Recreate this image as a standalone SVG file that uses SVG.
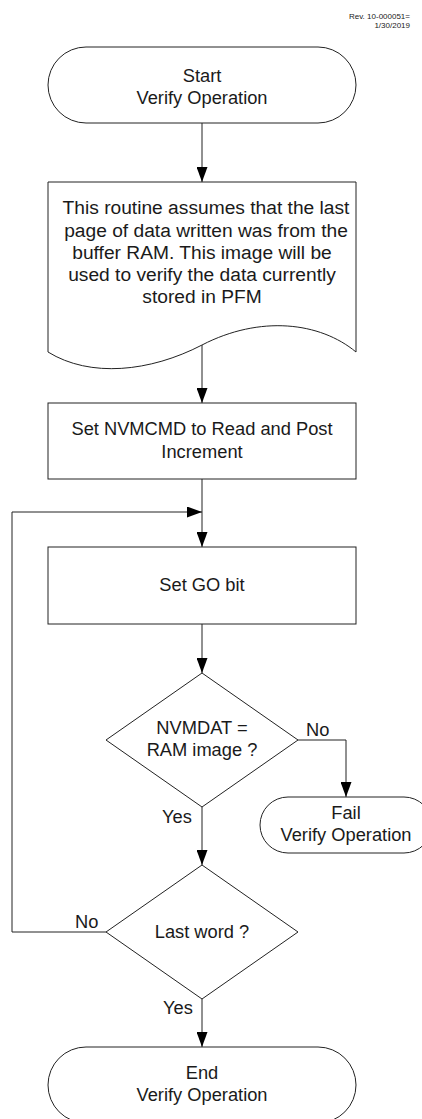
<svg xmlns="http://www.w3.org/2000/svg" width="422" height="1119" viewBox="0 0 422 1119">
<style>
.s{fill:#fff;stroke:#222;stroke-width:1}
.c{fill:none;stroke:#222;stroke-width:1}
text{font-family:"Liberation Sans",Arial,sans-serif;font-size:18.3px;fill:#1a1a1a}
.m{text-anchor:middle}
.d{font-size:19.2px}
.r{font-size:8px;text-anchor:end}
</style>
<defs>
<marker id="a" markerUnits="userSpaceOnUse" markerWidth="15" markerHeight="11" refX="15" refY="5.5" orient="auto">
<path d="M0,0 L15,5.5 L0,11 Z" fill="#000"/>
</marker>
</defs>
<g id="rev">
<text class="r" x="410" y="19">Rev. 10-000051=</text>
<text class="r" x="410" y="28">1/30/2019</text>
</g>
<g id="connectors">
<path class="c" d="M202,123 V182" marker-end="url(#a)"/>
<path class="c" d="M202,345 V403" marker-end="url(#a)"/>
<path class="c" d="M202,479 V547" marker-end="url(#a)"/>
<path class="c" d="M202,624 V673" marker-end="url(#a)"/>
<path class="c" d="M298,740 H346 V797" marker-end="url(#a)"/>
<path class="c" d="M202,807 V865" marker-end="url(#a)"/>
<path class="c" d="M106,932 H12 V512 H202" marker-end="url(#a)"/>
<path class="c" d="M202,999 V1047" marker-end="url(#a)"/>
<text x="306" y="736">No</text>
<text x="162" y="823">Yes</text>
<text x="75" y="928">No</text>
<text x="163" y="1014">Yes</text>
</g>
<g id="start">
<rect class="s" x="48" y="47" width="308" height="76" rx="38" ry="38"/>
<text class="m" x="202" y="82">Start</text>
<text class="m" x="202" y="104">Verify Operation</text>
</g>
<g id="note">
<path class="s" d="M48,182 H356 V352 C320,322 260,315 202,345 C150,372 90,378 48,352 Z"/>
<text class="m d" x="206" y="214">This routine assumes that the last</text>
<text class="m d" x="206" y="237">page of data written was from the</text>
<text class="m d" x="202" y="259">buffer RAM. This image will be</text>
<text class="m d" x="202" y="281">used to verify the data currently</text>
<text class="m d" x="202" y="303">stored in PFM</text>
</g>
<g id="setcmd">
<rect class="s" x="48" y="403" width="308" height="76"/>
<text class="m" x="202" y="435">Set NVMCMD to Read and Post</text>
<text class="m" x="202" y="458">Increment</text>
</g>
<g id="setgo">
<rect class="s" x="48" y="547" width="308" height="77"/>
<text class="m" x="202" y="591">Set GO bit</text>
</g>
<g id="check">
<path class="s" d="M202,673 L298,740 L202,807 L106,740 Z"/>
<text class="m" x="202" y="734">NVMDAT =</text>
<text class="m" x="202" y="756">RAM image ?</text>
</g>
<g id="fail">
<rect class="s" x="260" y="797" width="172" height="56" rx="28" ry="28"/>
<text class="m" x="346" y="819">Fail</text>
<text class="m" x="346" y="841">Verify Operation</text>
</g>
<g id="last">
<path class="s" d="M202,865 L298,932 L202,999 L106,932 Z"/>
<text class="m" x="202" y="938">Last word ?</text>
</g>
<g id="end">
<rect class="s" x="48" y="1047" width="308" height="76" rx="38" ry="38"/>
<text class="m" x="202" y="1079">End</text>
<text class="m" x="202" y="1101">Verify Operation</text>
</g>
</svg>
